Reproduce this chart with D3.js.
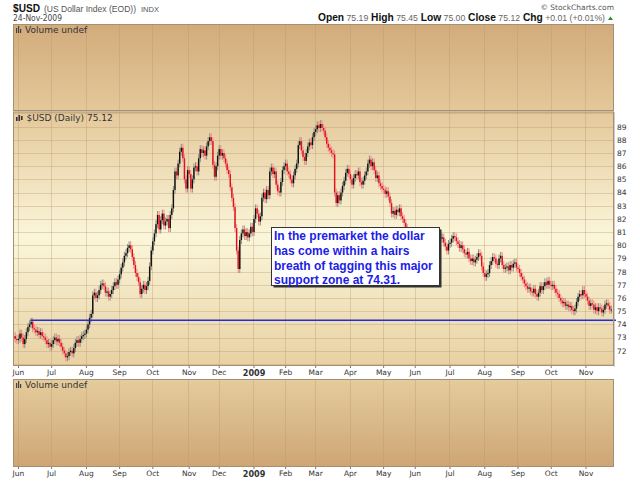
<!DOCTYPE html>
<html>
<head>
<meta charset="utf-8">
<script src="https://cdn.jsdelivr.net/npm/d3@7/dist/d3.min.js"></script>
<style>
  body { margin: 0; background: #fff; }
</style>
</head>
<body>
<svg id="chart" width="640" height="481" font-family="DejaVu Sans, sans-serif"></svg>
<script>
// daily closes of $USD, one array per month
var may08 = [73.1, 72.9, 72.8];
var jun08 = [72.9, 73.3, 73.0, 72.5, 72.9, 73.4, 73.8, 74.0, 74.2, 73.7, 73.6, 73.4, 73.5, 73.2, 73.4, 73.1, 73.0, 72.8, 72.5, 72.6, 72.3];
var jul08 = [72.5, 72.8, 73.0, 72.7, 72.9, 72.6, 72.3, 72.0, 71.8, 71.5, 71.6, 71.9, 72.0, 71.8, 72.2, 72.6, 72.8, 72.6, 72.9, 73.1, 73.2, 73.3];
var aug08 = [73.6, 74.0, 74.5, 74.8, 76.2, 76.4, 76.0, 76.2, 76.6, 77.0, 77.1, 76.9, 76.4, 76.5, 76.1, 76.3, 76.6, 76.9, 77.2, 77.0, 77.4];
var sep08 = [77.8, 78.3, 78.7, 79.2, 79.4, 79.8, 80.0, 79.7, 79.1, 78.5, 77.9, 77.6, 77.2, 76.3, 76.7, 77.0, 76.6, 76.9, 77.3, 78.4, 79.6];
var oct08 = [80.3, 80.9, 81.6, 82.3, 81.2, 81.9, 82.4, 81.5, 81.8, 82.0, 81.3, 82.3, 82.8, 84.2, 85.6, 85.3, 86.2, 87.1, 87.4, 86.6, 85.0, 84.3, 85.7];
var nov08 = [85.4, 84.3, 85.0, 85.9, 86.0, 85.6, 86.6, 87.3, 87.0, 87.2, 86.8, 87.5, 87.9, 88.2, 87.9, 86.1, 85.2, 86.0, 86.8];
var dec08 = [87.3, 86.8, 87.0, 86.6, 86.2, 85.7, 85.4, 84.4, 83.6, 82.9, 81.3, 79.6, 78.2, 80.4, 80.9, 81.2, 80.7, 81.0, 80.6, 80.9, 81.4, 81.0];
var jan09 = [82.0, 82.8, 82.4, 81.8, 82.2, 83.6, 84.0, 83.5, 84.2, 83.8, 85.6, 85.9, 85.4, 85.6, 84.6, 84.1, 84.0, 84.8, 85.7, 86.0];
var feb09 = [86.2, 85.6, 85.4, 85.0, 84.7, 85.3, 85.8, 86.2, 87.6, 87.9, 87.2, 86.7, 86.4, 87.0, 87.5, 87.8, 87.6, 88.2, 88.6];
var mar09 = [88.8, 89.1, 88.9, 89.2, 88.9, 88.7, 88.2, 87.7, 87.4, 87.2, 87.0, 86.9, 84.0, 83.2, 83.8, 83.4, 84.0, 84.5, 84.9, 85.5, 85.8, 85.4];
var apr09 = [85.0, 84.6, 85.1, 85.4, 85.3, 85.6, 84.8, 84.6, 84.9, 85.3, 85.6, 86.2, 86.5, 86.0, 86.3, 85.7, 85.1, 85.3, 84.7, 84.5, 84.3];
var may09 = [84.2, 83.9, 84.1, 83.7, 83.2, 82.4, 82.6, 82.3, 82.7, 82.5, 82.8, 82.2, 82.0, 81.7, 81.3, 80.7, 80.4, 80.5, 80.0, 79.4];
var jun09 = [79.0, 78.8, 79.6, 79.4, 80.4, 80.8, 80.3, 80.1, 79.6, 80.1, 80.7, 80.5, 80.2, 80.5, 80.3, 80.9, 80.5, 80.6, 80.2, 79.9, 79.6, 80.1];
var jul09 = [80.2, 80.5, 80.7, 80.6, 80.3, 80.1, 79.8, 80.0, 79.7, 79.4, 79.3, 79.5, 79.0, 78.8, 79.0, 78.7, 78.9, 79.1, 79.4, 79.2, 78.4, 77.9];
var aug09 = [77.6, 77.8, 77.9, 78.5, 78.8, 79.1, 79.0, 78.6, 78.5, 79.0, 79.2, 78.5, 78.2, 78.3, 78.4, 78.1, 78.5, 78.3, 78.6, 78.7, 78.3];
var sep09 = [78.2, 77.9, 77.6, 77.4, 77.1, 76.9, 76.7, 76.8, 76.5, 76.4, 76.7, 76.3, 76.1, 76.4, 76.9, 76.6, 76.9, 77.2, 77.0, 77.3, 77.0];
var oct09 = [76.9, 77.0, 76.7, 76.4, 76.3, 76.0, 75.8, 75.6, 75.7, 75.4, 75.5, 75.3, 75.4, 75.1, 75.0, 75.2, 75.7, 76.1, 76.3, 76.2, 76.6, 76.3];
var nov09 = [76.1, 75.8, 75.4, 75.6, 75.5, 75.1, 75.3, 75.0, 75.3, 75.2, 74.9, 75.1, 75.5, 75.6, 75.4, 75.11, 75.12];

var firstOpen = 73.0;
var monthLabels = ["", "Jun", "Jul", "Aug", "Sep", "Oct", "Nov", "Dec", "2009", "Feb", "Mar",
                   "Apr", "May", "Jun", "Jul", "Aug", "Sep", "Oct", "Nov"];
var yTicks = [72, 73, 74, 75, 76, 77, 78, 79, 80, 81, 82, 83, 84, 85, 86, 87, 88, 89];
var yGrid = [71, 72, 73, 74, 75, 76, 77, 78, 79, 80, 81, 82, 83, 84, 85, 86, 87, 88, 89, 90];

var supportLevel = 74.31;
var supportFrom = [1, 8];   // month, day the line is anchored on
var lastQuote = { open: "75.19", high: "75.45", low: "75.00", close: "75.12", chg: "+0.01 (+0.01%)" };
var note = ["In the premarket the dollar", "has come within a hairs",
            "breath of tagging this major", "support zone at 74.31."];

var monthArrays = [may08, jun08, jul08, aug08, sep08, oct08, nov08, dec08,
                   jan09, feb09, mar09, apr09, may09, jun09, jul09, aug09, sep09, oct09, nov09];

// build the day list
var days = [], monthStarts = [];
monthArrays.forEach(function (arr, m) {
  monthStarts.push(days.length);
  arr.forEach(function (c) {
    days.push({ i: days.length, close: c, month: m });
  });
});
days.forEach(function (d, i) {
  d.open = i === 0 ? firstOpen : days[i - 1].close;
  d.up = d.close >= d.open;
});

var svg = d3.select("#chart");
var left = 13, right = 614;
var topP = { y0: 24, y1: 111 };
var mainP = { y0: 111.5, y1: 366 };
var volP = { y0: 379, y1: 467 };
var sans = "'Liberation Sans', Arial, sans-serif";

var x = d3.scaleBand().domain(days.map(function (d) { return d.i; }))
  .range([left, 612]).paddingInner(0.1);
var y = d3.scaleLinear().domain([70.84, 90.15]).range([mainP.y1, mainP.y0]);

// background gradient running over all three panels
var defs = svg.append("defs");
var grad = defs.append("linearGradient").attr("id", "bg")
  .attr("gradientUnits", "userSpaceOnUse")
  .attr("x1", 0).attr("x2", 0).attr("y1", topP.y0).attr("y2", volP.y1);
[[0, "#d2ab7b"], [0.2, "#e4c99b"], [0.48, "#fbf6da"], [0.78, "#e7d0a1"], [1, "#cea575"]]
  .forEach(function (s) {
    grad.append("stop").attr("offset", s[0]).attr("stop-color", s[1]);
  });

var panels = [topP, mainP, volP];
svg.selectAll("rect.panel").data(panels).enter().append("rect")
  .attr("class", "panel")
  .attr("x", left).attr("width", right - left)
  .attr("y", function (p) { return p.y0; })
  .attr("height", function (p) { return p.y1 - p.y0; })
  .attr("fill", "url(#bg)");

// vertical month gridlines in every panel
var gridStarts = monthStarts.slice(1);
panels.forEach(function (p) {
  svg.append("g").selectAll("line").data(gridStarts).enter().append("line")
    .attr("x1", function (d) { return Math.round(x(d)) + 0.5; })
    .attr("x2", function (d) { return Math.round(x(d)) + 0.5; })
    .attr("y1", p.y0).attr("y2", p.y1)
    .attr("stroke", "#b8956a").attr("stroke-opacity", 0.35);
});

// horizontal gridlines in the price panel
svg.append("g").selectAll("line").data(yGrid.filter(function (v) {
    return y(v) > mainP.y0 + 1 && y(v) < mainP.y1 - 1;
  })).enter().append("line")
  .attr("x1", left).attr("x2", right)
  .attr("y1", function (v) { return Math.round(y(v)) + 0.5; })
  .attr("y2", function (v) { return Math.round(y(v)) + 0.5; })
  .attr("stroke", "#b8956a").attr("stroke-opacity", 0.35);

// candles
var bw = x.bandwidth();
var ext = 0.3;
var candles = svg.append("g");
candles.selectAll("line").data(days).enter().append("line")
  .attr("x1", function (d) { return x(d.i) + bw / 2; })
  .attr("x2", function (d) { return x(d.i) + bw / 2; })
  .attr("y1", function (d) { return y(Math.max(d.open, d.close) + ext); })
  .attr("y2", function (d) { return y(Math.min(d.open, d.close) - ext); })
  .attr("stroke", function (d) { return d.up ? "#8e8c80" : "#ef8a8a"; })
  .attr("stroke-width", 1);
candles.selectAll("rect").data(days).enter().append("rect")
  .attr("x", function (d) { return x(d.i); })
  .attr("width", bw)
  .attr("y", function (d) { return y(Math.max(d.open, d.close)); })
  .attr("height", function (d) {
    return Math.max(1, y(Math.min(d.open, d.close)) - y(Math.max(d.open, d.close)));
  })
  .attr("fill", function (d) { return d.up ? "#111" : "#e0101c"; });

// support line
var supportIdx = monthStarts[supportFrom[0]] + supportFrom[1];
svg.append("line")
  .attr("x1", x(supportIdx)).attr("x2", right + 2)
  .attr("y1", y(supportLevel)).attr("y2", y(supportLevel))
  .attr("stroke", "#1f2fd6").attr("stroke-width", 1.6);

// panel borders
svg.selectAll("rect.border").data(panels).enter().append("rect")
  .attr("class", "border")
  .attr("x", left + 0.5).attr("width", right - left - 1)
  .attr("y", function (p) { return p.y0 + 0.5; })
  .attr("height", function (p) { return p.y1 - p.y0 - 1; })
  .attr("fill", "none").attr("stroke", "#a88f72");

// right price axis
var yAxis = d3.axisRight(y).tickValues(yTicks).tickSize(0).tickPadding(3);
var ya = svg.append("g").attr("transform", "translate(" + right + ",0)").call(yAxis);
ya.attr("font-family", null);
ya.select(".domain").attr("stroke", "#999").attr("stroke-dasharray", "1,1");
ya.selectAll("text").attr("font-size", "7.5px").attr("fill", "#333");

// month axes under price and volume panels
[mainP.y1, volP.y1].forEach(function (yy) {
  var xAxis = d3.axisBottom(x).tickValues(gridStarts).tickSize(2).tickPadding(2)
    .tickFormat(function (d, k) { return monthLabels[k + 1]; });
  var xa = svg.append("g").attr("transform", "translate(0," + yy + ")").call(xAxis);
  xa.attr("font-family", null);
  xa.select(".domain").remove();
  xa.selectAll("line").attr("stroke", "#777");
  xa.selectAll("text").attr("font-size", "7.5px").attr("fill", "#333")
    .filter(function (d, k) { return monthLabels[k + 1] === "2009"; })
    .attr("font-weight", "bold").attr("font-size", "9px")
    .attr("font-family", "'DejaVu Sans Condensed', sans-serif");
});

// header
svg.append("text").attr("x", 13).attr("y", 12)
  .attr("font-size", "11px").attr("font-weight", "bold")
  .attr("font-family", sans)
  .attr("textLength", 27).attr("lengthAdjust", "spacingAndGlyphs")
  .attr("fill", "#111").text("$USD");
svg.append("text").attr("x", 44).attr("y", 12)
  .attr("font-size", "8.6px").attr("fill", "#555").attr("font-family", sans)
  .attr("textLength", 92).attr("lengthAdjust", "spacingAndGlyphs")
  .text("(US Dollar Index (EOD))");
svg.append("text").attr("x", 141).attr("y", 12)
  .attr("font-size", "7px").attr("fill", "#555").attr("font-family", sans)
  .attr("textLength", 18).attr("lengthAdjust", "spacingAndGlyphs")
  .text("INDX");
svg.append("text").attr("x", 13).attr("y", 21)
  .attr("font-size", "8px").attr("fill", "#444")
  .attr("textLength", 49).attr("lengthAdjust", "spacingAndGlyphs")
  .text("24-Nov-2009");
svg.append("text").attr("x", 614).attr("y", 10).attr("text-anchor", "end")
  .attr("font-size", "7.5px").attr("fill", "#555")
  .text("\u00a9 StockCharts.com");

var q = svg.append("text").attr("x", 318).attr("y", 21)
  .attr("font-size", "8.5px").attr("fill", "#666").attr("font-family", sans)
  .attr("textLength", 287).attr("lengthAdjust", "spacingAndGlyphs");
[["Open", lastQuote.open], ["High", lastQuote.high], ["Low", lastQuote.low],
 ["Close", lastQuote.close], ["Chg", lastQuote.chg]].forEach(function (p, k) {
  q.append("tspan").attr("font-weight", "bold").attr("fill", "#111")
    .attr("font-size", "10px")
    .text((k ? "  " : "") + p[0]);
  q.append("tspan").text(" " + p[1]);
});
svg.append("path").attr("d", "M608,20 L613,20 L610.5,16.5 Z").attr("fill", "#2a8a2a");

// panel titles with small icons
function barsIcon(px, py) {
  [[0, 5], [2, 7], [4, 4]].forEach(function (b) {
    svg.append("rect").attr("x", px + b[0]).attr("y", py + 7 - b[1])
      .attr("width", 1.2).attr("height", b[1]).attr("fill", "#444");
  });
}
barsIcon(16, 26);
svg.append("text").attr("x", 25).attr("y", 33).attr("font-size", "9px")
  .attr("fill", "#333").text("Volume undef");
barsIcon(16, 381);
svg.append("text").attr("x", 25).attr("y", 388).attr("font-size", "9px")
  .attr("fill", "#333").text("Volume undef");

[[16, 3, 4], [18.5, 1, 6], [21, 2, 4]].forEach(function (b) {
  svg.append("rect").attr("x", b[0]).attr("y", 114 + b[1])
    .attr("width", 1.6).attr("height", b[2]).attr("fill", "#333");
});
svg.append("text").attr("x", 26.5).attr("y", 121).attr("font-size", "9px")
  .attr("fill", "#333").text("$USD (Daily) 75.12");

// annotation box
var box = { x: 271.5, y: 227.5, w: 168, h: 58 };
svg.append("rect").attr("x", box.x + 2).attr("y", box.y + 2)
  .attr("width", box.w).attr("height", box.h).attr("fill", "#333");
svg.append("rect").attr("x", box.x).attr("y", box.y)
  .attr("width", box.w).attr("height", box.h)
  .attr("fill", "#fff").attr("stroke", "#333");
svg.append("g").selectAll("text").data(note).enter().append("text")
  .attr("x", box.x + 2.5)
  .attr("y", function (d, k) { return box.y + 12.8 + k * 14.6; })
  .attr("font-family", sans)
  .attr("font-size", "12px").attr("font-weight", "bold")
  .attr("fill", "#1c1ce8").text(function (d) { return d; });
</script>
</body>
</html>
